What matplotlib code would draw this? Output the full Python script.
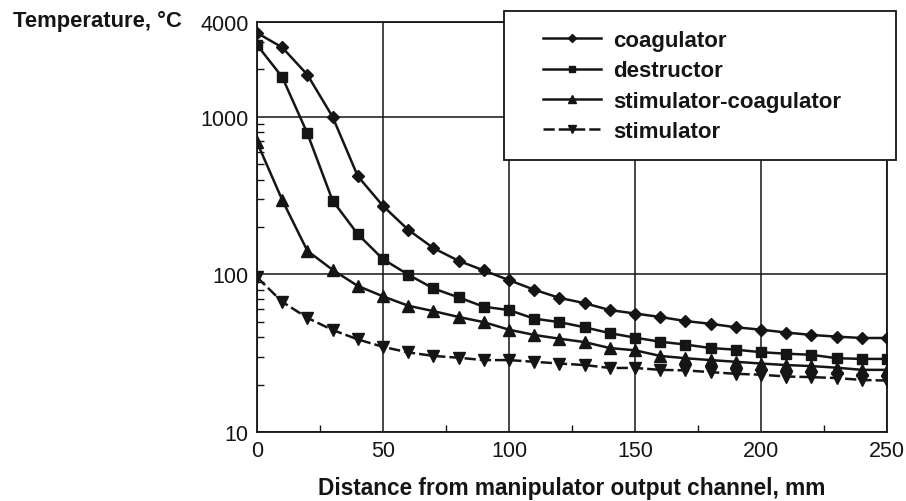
import matplotlib
matplotlib.use("Agg")
import matplotlib.pyplot as plt
from matplotlib.patches import Rectangle
from matplotlib.ticker import FixedLocator, NullFormatter, LogLocator

plt.rcParams['font.family'] = ['Liberation Sans', 'DejaVu Sans']

distance = [0, 10, 20, 30, 40, 50, 60, 70, 80, 90, 100, 110, 120, 130, 140, 150,
            160, 170, 180, 190, 200, 210, 220, 230, 240, 250]

coagulator = [3410, 2760, 1850, 1000, 420, 272, 192, 147, 122, 106, 92, 80, 71, 65.7,
              59.4, 56.5, 53.7, 50.6, 48.6, 46.2, 44.6, 42.8, 41.3, 40.3, 39.5, 39.5]
destructor = [2860, 1790, 785, 294, 180, 125, 99.7, 81.5, 71.5, 62.4, 59.4, 52.4, 49.8,
              46.2, 42.4, 39.7, 37.4, 35.9, 34.1, 33.3, 32.1, 31.4, 30.9, 29.4, 29.1, 29.1]
stim_coag = [690, 297, 141, 107, 84.5, 72.6, 63.3, 58.5, 53.7, 49.8, 44.6, 41.3, 39.1,
             37.2, 34.1, 33.0, 30.4, 29.4, 28.6, 27.9, 27.2, 26.6, 26.2, 25.6, 24.8, 24.8]
stimulator = [96, 67, 53, 44.4, 38.7, 34.7, 32.0, 30.4, 29.6, 28.6, 28.6, 27.9, 27.2,
              26.6, 25.5, 25.5, 24.8, 24.6, 24.0, 23.4, 23.1, 22.5, 22.3, 22.0, 21.4, 21.2]

series_labels = ['coagulator', 'destructor', 'stimulator-coagulator', 'stimulator']
x_ticks = [0, 50, 100, 150, 200, 250]
y_ticks = [10, 100, 1000, 4000]
y_tick_labels = ['10', '100', '1000', '4000']

W, H = 906, 502
fig = plt.figure(figsize=(W / 100, H / 100), dpi=100)
ax = fig.add_axes([257 / W, 1 - 433 / H, (887 - 257) / W, (433 - 23) / H])

ink = '#151515'
lw = 1.8
ax.plot(distance, coagulator, color=ink, lw=lw, marker='D', ms=6, label=series_labels[0])
ax.plot(distance, destructor, color=ink, lw=lw, marker='s', ms=6.5, label=series_labels[1])
ax.plot(distance, stim_coag, color=ink, lw=lw, marker='^', ms=8, label=series_labels[2])
ax.plot(distance, stimulator, color=ink, lw=lw, marker='v', ms=8,
        linestyle=(0, (4.5, 1.6)), label=series_labels[3])

ax.set_yscale('log')
ax.set_xlim(0, 250)
ax.set_ylim(10, 4000)

ax.xaxis.set_major_locator(FixedLocator(x_ticks))
ax.xaxis.set_minor_locator(FixedLocator([25, 75, 125, 175, 225]))
ax.yaxis.set_major_locator(FixedLocator(y_ticks))
ax.set_yticklabels(y_tick_labels)
ax.yaxis.set_minor_locator(LogLocator(base=10, subs=range(2, 10)))
ax.yaxis.set_minor_formatter(NullFormatter())

ax.grid(True, which='major', color=ink, lw=1.1)
ax.tick_params(which='major', direction='in', length=0, labelsize=15.5, colors=ink, pad=6)
ax.tick_params(which='minor', direction='in', length=5, width=1.0, color=ink)
for s in ax.spines.values():
    s.set_color(ink)
    s.set_linewidth(1.3)

fig.text(13 / W, 1 - 21 / H, 'Temperature, °C', fontsize=15.8, fontweight='bold',
         color=ink, ha='left', va='center')
fig.text(572 / W, 1 - 489 / H, 'Distance from manipulator output channel, mm',
         fontsize=16.3, fontweight='bold', color=ink, ha='center', va='center')

# legend frame
rect = Rectangle((504 / W, 1 - 161 / H), (896 - 504) / W, (161 - 12) / H,
                 transform=fig.transFigure, facecolor='white', edgecolor=ink,
                 lw=1.3, zorder=5)
fig.patches.append(rect)
leg = fig.legend(loc='upper left', bbox_to_anchor=(543 / W, 1 - 31 / H), frameon=False,
                 borderpad=0, borderaxespad=0, handlelength=2.6, handletextpad=0.55,
                 labelspacing=0.42, markerscale=0.65,
                 prop={'weight': 'bold', 'size': 16})
leg.set_zorder(6)
for t in leg.get_texts():
    t.set_color(ink)

fig.savefig('out.png', dpi=100)
